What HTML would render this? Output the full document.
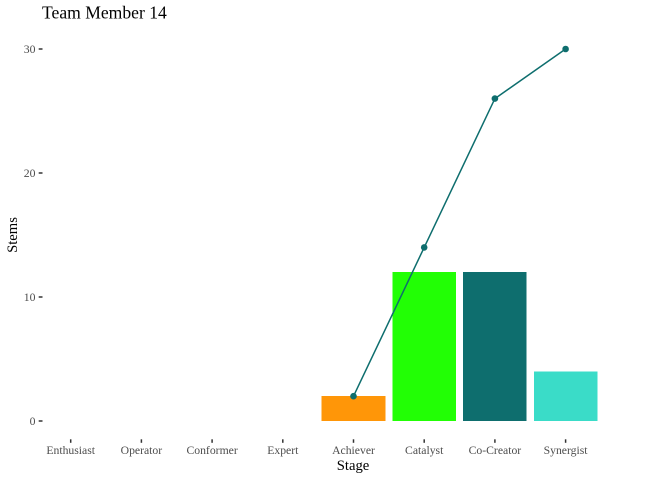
<!DOCTYPE html>
<html>
<head>
<meta charset="utf-8">
<style>
html,body{margin:0;padding:0;background:#fff}
svg{display:block}
text{font-family:"Liberation Serif",serif}
</style>
</head>
<body>
<svg id="chart" width="672" height="480" viewBox="0 0 672 480" xmlns="http://www.w3.org/2000/svg">
<text x="42" y="18.5" font-size="17.6" fill="#000">Team Member 14</text>
<text x="353" y="470" font-size="14.67" text-anchor="middle" fill="#000">Stage</text>
<text transform="translate(17,235) rotate(-90)" font-size="14.67" text-anchor="middle" fill="#000">Stems</text>
</svg>
<script>
var categories = ['Enthusiast','Operator','Conformer','Expert','Achiever','Catalyst','Co-Creator','Synergist'];
var barValues = [0,0,0,0,2,12,12,4];
var barColors = ['#ff0000','#ff0000','#ff0000','#ff0000','#ff9608','#22ff05','#0e6e6e','#3adcc8'];
var lineValues = [null,null,null,null,2,14,26,30];
var yTicks = [0,10,20,30];

function xScale(i){ return 70.7 + 70.7 * i; }
function yScale(v){ return 421 - 12.4 * v; }
var bandWidth = 63.6;
var NS = 'http://www.w3.org/2000/svg';
var svg = document.getElementById('chart');
function make(tag, attrs, parent){
  var el = document.createElementNS(NS, tag);
  for (var k in attrs) el.setAttribute(k, attrs[k]);
  (parent || svg).appendChild(el);
  return el;
}

yTicks.forEach(function(t){
  var tick = make('line', {x1:38.7, x2:42.5, y1:yScale(t), y2:yScale(t), stroke:'#333', 'stroke-width':1.5});
  
  
  var label = make('text', {x:35.5, y:yScale(t)+3.8, 'font-size':11.73, 'text-anchor':'end', fill:'#4d4d4d'});
  
  
  label.textContent = t;
});

categories.forEach(function(c, i){
  var tick = make('line', {x1:xScale(i), x2:xScale(i), y1:439.3, y2:442.8, stroke:'#333', 'stroke-width':1.5});
  
  
  var label = make('text', {x:xScale(i), y:454.2, 'font-size':11.7, 'text-anchor':'middle', fill:'#4d4d4d'});
  
  
  label.textContent = c;
  if (barValues[i] > 0) {
    var bar = make('rect', {x:xScale(i)-bandWidth/2, y:yScale(barValues[i]), width:bandWidth, height:yScale(0)-yScale(barValues[i]), fill:barColors[i], 'shape-rendering':'crispEdges'});
    
    
  }
});

var pts = [];
lineValues.forEach(function(v, i){ if (v !== null) pts.push(xScale(i) + ',' + yScale(v)); });
var line = make('polyline', {points:pts.join(' '), fill:'none', stroke:'#0e6e6e', 'stroke-width':1.5});


lineValues.forEach(function(v, i){
  if (v === null) return;
  var dot = make('circle', {cx:xScale(i), cy:yScale(v), r:3.3, fill:'#0e6e6e'});
  
  
});
</script>
</body>
</html>
